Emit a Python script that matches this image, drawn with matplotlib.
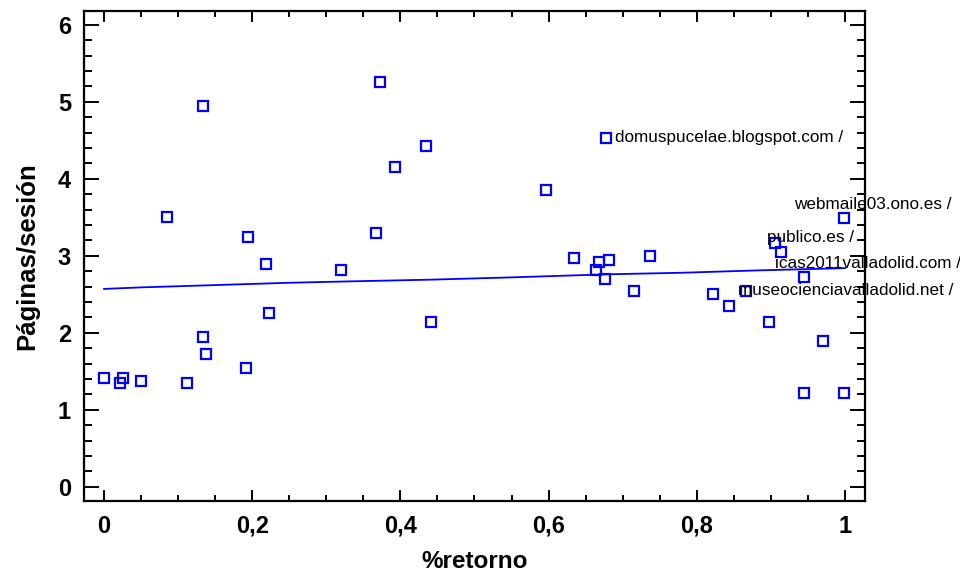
import matplotlib
matplotlib.use("Agg")
import matplotlib.pyplot as plt
from matplotlib.ticker import MultipleLocator, FuncFormatter

# Share of returning visits vs. pages per session, one point per site
retorno = [0.000, 0.022, 0.025, 0.050, 0.112, 0.134, 0.138, 0.191, 0.219, 0.222,
           0.320, 0.441, 0.134, 0.373, 0.435, 0.393, 0.085, 0.194, 0.367, 0.678,
           0.597, 0.999, 0.634, 0.668, 0.681, 0.737, 0.905, 0.914, 0.664, 0.676,
           0.715, 0.822, 0.844, 0.866, 0.945, 0.897, 0.970, 0.945, 0.999]
paginas = [1.41, 1.35, 1.41, 1.38, 1.35, 1.94, 1.73, 1.54, 2.89, 2.26,
           2.81, 2.14, 4.94, 5.26, 4.43, 4.15, 3.51, 3.24, 3.29, 4.53,
           3.86, 3.49, 2.97, 2.92, 2.94, 3.00, 3.16, 3.05, 2.81, 2.70,
           2.54, 2.51, 2.35, 2.54, 2.73, 2.14, 1.89, 1.22, 1.22]

# Fitted model
ajuste_x = [0.00, 0.05, 0.15, 0.25, 0.34, 0.44, 0.55, 0.68, 0.78, 0.88, 1.00]
ajuste_y = [2.57, 2.59, 2.62, 2.65, 2.67, 2.69, 2.72, 2.76, 2.78, 2.81, 2.84]

# Labelled sites: text, label anchor (x, y)
etiquetas = ["domuspucelae.blogspot.com /", "webmaile03.ono.es /", "publico.es /",
             "icas2011valladolid.com /", "museocienciavalladolid.net /"]
etiqueta_x = [0.690, 0.931, 0.895, 0.906, 0.856]
etiqueta_y = [4.53, 3.66, 3.24, 2.90, 2.55]

x_ticks = [0, 0.2, 0.4, 0.6, 0.8, 1.0]
y_ticks = [0, 1, 2, 3, 4, 5, 6]

azul = "#0000ff"
plt.rcParams["font.family"] = ["Liberation Sans", "DejaVu Sans"]

fig = plt.figure(figsize=(9.6, 5.74), dpi=100)
ax = fig.add_axes([0.087, 0.127, 0.814, 0.854])

ax.plot(retorno, paginas, linestyle="none", marker="s", markersize=6.6,
        markerfacecolor="none", markeredgecolor=azul, markeredgewidth=1.6)
ax.plot(ajuste_x, ajuste_y, color=azul, linewidth=1.3)

for txt, tx, ty in zip(etiquetas, etiqueta_x, etiqueta_y):
    ax.text(tx, ty, txt, fontsize=12.3, color="black", ha="left", va="center",
            clip_on=False)

ax.set_xlim(-0.0277, 1.027)
ax.set_ylim(-0.185, 6.18)
ax.set_xticks(x_ticks)
ax.set_yticks(y_ticks)
ax.xaxis.set_minor_locator(MultipleLocator(0.05))
ax.yaxis.set_minor_locator(MultipleLocator(0.2))
ax.xaxis.set_major_formatter(FuncFormatter(lambda v, p: f"{v:g}".replace(".", ",")))

for s in ax.spines.values():
    s.set_linewidth(1.6)

ax.tick_params(axis="both", which="both", direction="in", top=True, right=True,
               width=1.4, colors="black")
ax.tick_params(axis="x", which="major", length=8, pad=10, labelsize=17)
ax.tick_params(axis="x", which="minor", length=4)
ax.tick_params(axis="y", which="major", length=11, pad=9, labelsize=17)
ax.tick_params(axis="y", which="minor", length=6)
for lab in ax.get_xticklabels() + ax.get_yticklabels():
    lab.set_fontweight("bold")

ax.set_xlabel("%retorno", fontsize=17.5, fontweight="bold", labelpad=9)
ax.set_ylabel("Páginas/sesión", fontsize=18.5, fontweight="bold", labelpad=13)

fig.savefig("out.png", dpi=100, facecolor="white")
